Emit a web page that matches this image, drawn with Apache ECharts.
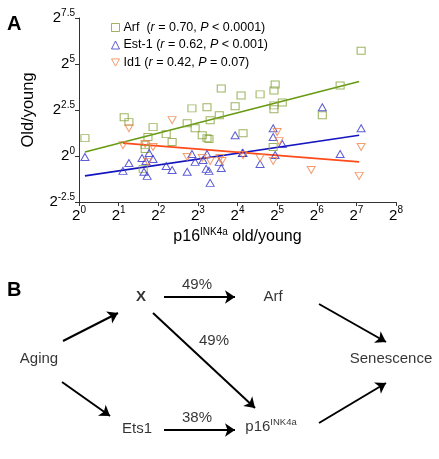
<!DOCTYPE html>
<html><head><meta charset="utf-8">
<script src="https://cdn.jsdelivr.net/npm/echarts@6/dist/echarts.min.js"></script>
<style>html,body{margin:0;padding:0;background:#fff}#c{width:439px;height:459px}</style>
</head><body><div id="c"></div>
<script>
// ---- Panel A data (log2 units: x = log2 p16 old/young, y = log2 old/young) ----
const seriesNames = ['Arf', 'Est-1', 'Id1'];
const arfPoints = [[0.15,0.97],[1.14,2.11],[1.26,1.84],[1.87,1.57],[1.74,1.03],[1.67,0.59],[1.67,0.38],[1.62,-0.70],[2.20,1.19],[2.35,0.76],[2.85,2.59],[3.23,2.65],[2.73,1.78],[2.93,1.51],[3.11,1.13],[3.23,0.97],[3.28,0.92],[3.31,1.94],[3.54,2.21],[3.59,3.67],[4.09,3.29],[4.57,3.35],[4.95,3.89],[4.92,3.56],[3.94,2.70],[4.92,2.75],[4.92,2.54],[5.13,2.91],[6.14,2.21],[6.59,3.83],[7.12,5.72],[4.14,1.24],[4.90,0.49]];
const est1Points = [[0.15,-0.05],[1.11,-0.81],[1.26,-0.38],[1.59,-0.11],[1.69,-0.27],[1.77,0.16],[1.87,-0.16],[1.64,-0.86],[1.72,-1.08],[2.20,-0.54],[2.35,-0.76],[2.73,-0.86],[2.85,0.11],[2.93,-0.32],[3.13,-0.22],[3.23,0.11],[3.21,-0.70],[3.28,-0.81],[3.31,-1.46],[3.54,-0.32],[3.59,-0.65],[3.94,1.13],[4.12,0.16],[4.14,0.16],[4.57,-0.43],[4.90,1.51],[4.90,1.03],[4.95,0.05],[5.13,0.65],[6.14,2.65],[6.59,0.11],[7.12,1.51]];
const id1Points = [[1.11,0.59],[1.26,1.51],[1.67,0.65],[1.87,0.49],[1.74,-0.32],[2.35,1.95],[2.73,-0.05],[3.11,-0.11],[3.31,-0.27],[3.56,-0.11],[3.61,-0.27],[4.14,0.05],[4.57,-0.11],[4.90,-0.27],[5.00,1.30],[5.05,0.81],[5.86,-0.76],[7.12,0.49],[7.07,-1.08]];
// regression lines (end points)
const arfFit = [[0.15,0.22],[7.07,4.05]];
const est1Fit = [[0.15,-1.08],[7.07,1.13]];
const id1Fit = [[1.11,0.70],[7.07,-0.32]];
const xTicks = [0,1,2,3,4,5,6,7,8];
const yTicks = [-2.5,0,2.5,5,7.5];
const legendLabels = ['Arf  ({i|r} = 0.70, {i|P} < 0.0001)', 'Est-1 ({i|r} = 0.62, {i|P} < 0.001)', 'Id1 ({i|r} = 0.42, {i|P} = 0.07)'];

// ---- Panel B diagram ----
const diagramNodes = [
  {text:'X', bold:true, x:141, y:27},
  {text:'Arf', x:273, y:27},
  {text:'Aging', x:39, y:89},
  {text:'Senescence', x:391, y:89},
  {text:'Ets1', x:137, y:159},
  {text:'p16{s|INK4a}', x:271, y:157}
];
const diagramEdgeLabels = [
  {text:'49%', x:197, y:15},
  {text:'49%', x:214, y:71},
  {text:'38%', x:197, y:148}
];
const diagramEdges = [
  [[63,71],[118,43]],
  [[164,27],[235,27]],
  [[153,43],[255,138]],
  [[62,112],[110,146]],
  [[164,160],[235,160]],
  [[319,34],[386,72]],
  [[319,153],[386,113]]
];

const FONT = '"Liberation Sans", Arial, Helvetica, sans-serif';
const colors = {arf:'#86a13a', arfLine:'#669a10', est:'#3434cc', estLine:'#1414c0', id:'#f0844a', idLine:'#ff4a1a'};
const markerColors = [colors.arf, colors.est, colors.id];
const axisRich = {
  b:{fontSize:15, lineHeight:15, fontFamily:FONT, color:'#000'},
  s:{fontSize:10, lineHeight:10, padding:[0,0,10,0], fontFamily:FONT, color:'#000'}
};
const supLabel = v => '{b|2}{s|' + v + '}';
const downTri = 'path://M0,0L10,0L5,9Z';

const chart = echarts.init(document.getElementById('c'));
const emptyStyle = c => ({color:'rgba(255,255,255,0)', borderColor:c, borderWidth:1});
const option = {
  animation:false,
  textStyle:{fontFamily:FONT},
  legend:{
    data:seriesNames.map((n,i)=>({name:n, itemStyle:{color:'rgba(255,255,255,0)', borderColor:markerColors[i], borderWidth:1}})),
    orient:'vertical', left:106, top:16, itemGap:4.5,
    itemWidth:8, itemHeight:8,
    formatter: name => legendLabels[seriesNames.indexOf(name)],
    textStyle:{fontSize:12.5, color:'#000', fontFamily:FONT, padding:[0,0,0,-1],
      rich:{i:{fontStyle:'italic', fontSize:12.5, fontFamily:FONT, color:'#000'}}}
  },
  graphic:[
    {type:'text', left:7, top:14, style:{text:'A', font:'bold 20px "Liberation Sans", Arial', fill:'#000'}},
    {type:'text', left:7, top:280, style:{text:'B', font:'bold 20px "Liberation Sans", Arial', fill:'#000'}}
  ],
  grid:[{left:79, top:18, width:317, height:184}, {left:0, top:270, width:439, height:189}],
  xAxis:[
    {type:'value', gridIndex:0, min:xTicks[0], max:xTicks[xTicks.length-1], interval:1,
     axisLine:{onZero:false, lineStyle:{color:'#333'}}, axisTick:{length:4, lineStyle:{color:'#333'}},
     splitLine:{show:false}, axisLabel:{formatter:v=>supLabel(v), rich:axisRich, margin:6},
     name:'p16{s|INK4a} old/young', nameLocation:'middle', nameGap:27,
     nameTextStyle:{fontSize:16, color:'#000', fontFamily:FONT,
       rich:{s:{fontSize:10, lineHeight:10, padding:[0,0,9,0], color:'#000', fontFamily:FONT}}}},
    {type:'value', gridIndex:1, min:0, max:439, show:false}
  ],
  yAxis:[
    {type:'value', gridIndex:0, min:yTicks[0], max:yTicks[yTicks.length-1], interval:2.5,
     axisLine:{show:true, onZero:false, lineStyle:{color:'#333'}}, axisTick:{show:true, length:4, lineStyle:{color:'#333'}},
     splitLine:{show:false}, axisLabel:{formatter:v=>supLabel(v), rich:axisRich, margin:4},
     name:'Old/young', nameLocation:'middle', nameGap:42,
     nameTextStyle:{fontSize:16.5, color:'#000', fontFamily:FONT}},
    {type:'value', gridIndex:1, min:0, max:189, inverse:true, show:false}
  ],
  series:[
    {name:'Arf fit', type:'line', data:arfFit, showSymbol:false, lineStyle:{color:colors.arfLine, width:1.6}, silent:true, z:1},
    {name:'Est-1 fit', type:'line', data:est1Fit, showSymbol:false, lineStyle:{color:colors.estLine, width:1.6}, silent:true, z:1},
    {name:'Id1 fit', type:'line', data:id1Fit, showSymbol:false, lineStyle:{color:colors.idLine, width:1.6}, silent:true, z:1},
    {name:'Arf', type:'scatter', data:arfPoints, symbol:'rect', symbolSize:[8,7], itemStyle:emptyStyle(colors.arf), z:3},
    {name:'Est-1', type:'scatter', data:est1Points, symbol:'triangle', symbolSize:[8,7], itemStyle:emptyStyle(colors.est), z:3},
    {name:'Id1', type:'scatter', data:id1Points, symbol:downTri, symbolSize:[8,7], itemStyle:emptyStyle(colors.id), z:3},
    {type:'lines', coordinateSystem:'cartesian2d', xAxisIndex:1, yAxisIndex:1, silent:true,
     symbol:['none','arrow'], symbolSize:10,
     lineStyle:{color:'#000', width:2, opacity:1},
     data:diagramEdges.map(e=>({coords:e}))},
    {type:'scatter', xAxisIndex:1, yAxisIndex:1, silent:true, symbolSize:1,
     itemStyle:{color:'rgba(0,0,0,0)'},
     label:{show:true, position:'inside', fontSize:15, color:'#000', fontFamily:FONT,
       formatter:p=>p.data.text,
       rich:{s:{fontSize:9.5, lineHeight:10, padding:[0,0,9,0], color:'#000', fontFamily:FONT}}},
     data:diagramNodes.concat(diagramEdgeLabels).map(n=>({value:[n.x,n.y], text:n.text,
       label:{fontWeight:n.bold?'bold':'normal'}}))}
  ]
};
chart.setOption(option);
</script></body></html>
